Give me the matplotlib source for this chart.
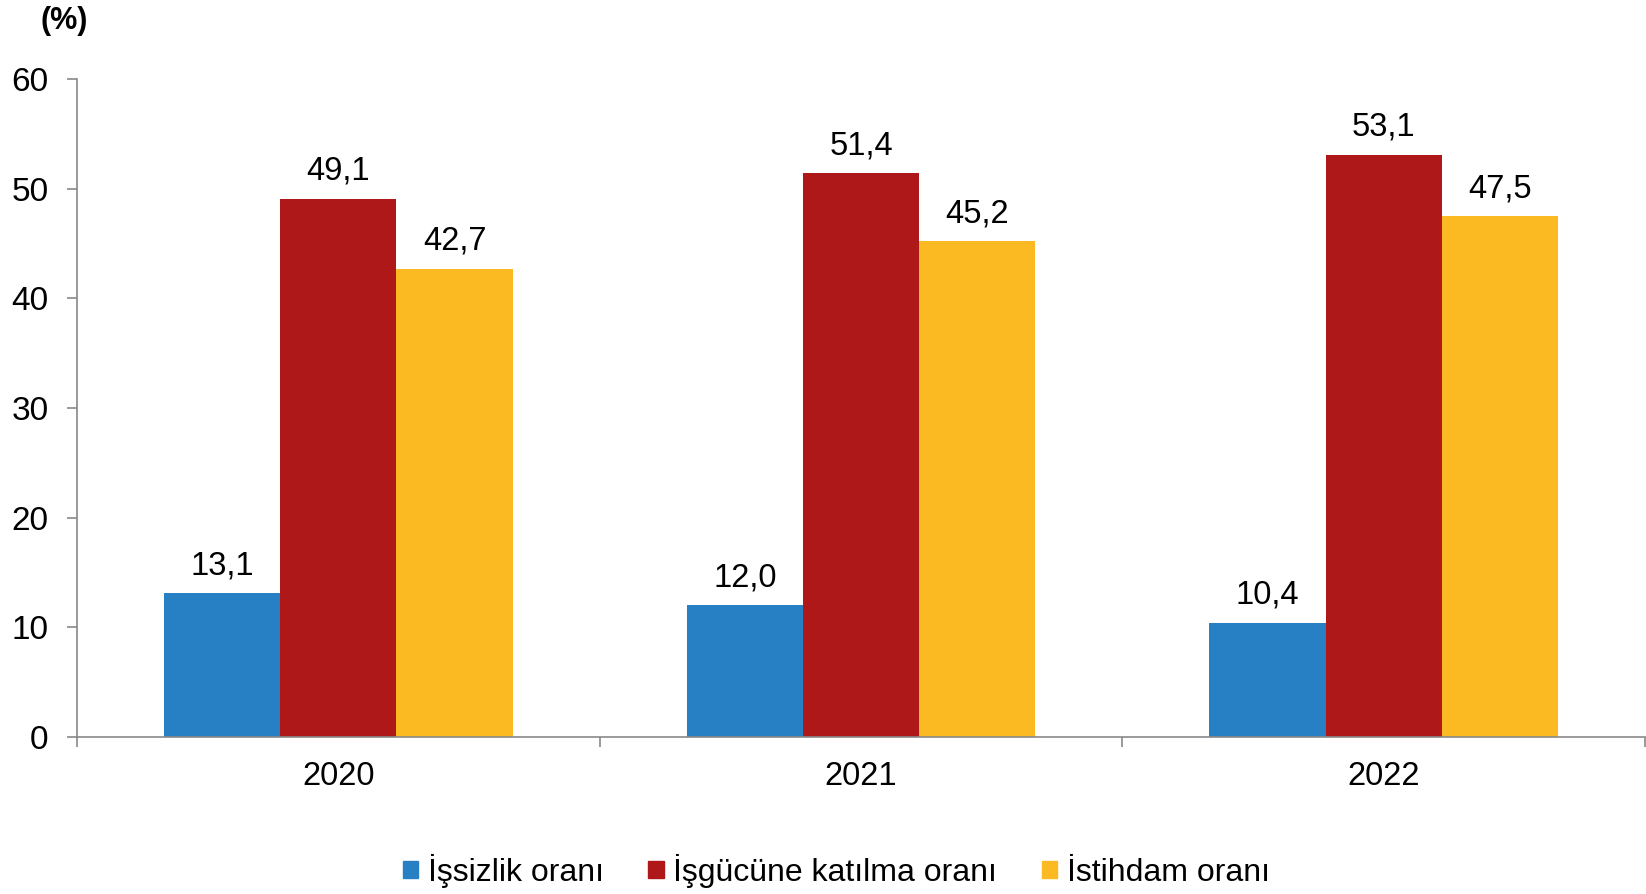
import matplotlib.pyplot as plt
from matplotlib.patches import Patch
import numpy as np

plt.rcParams['font.family'] = ['Liberation Sans', 'DejaVu Sans']

years = ['2020', '2021', '2022']
series_names = ['İşsizlik oranı', 'İşgücüne katılma oranı', 'İstihdam oranı']
issizlik = [13.1, 12.0, 10.4]
isgucu = [49.1, 51.4, 53.1]
istihdam = [42.7, 45.2, 47.5]
colors = ['#2880C4', '#AE1818', '#FBBA22']

fig = plt.figure(figsize=(16.46, 8.94), dpi=100)
ax = fig.add_axes([0.0468, 0.1756, 0.9526, 0.736])

x = np.arange(len(years))
w = 2 / 9
for i, (vals, c) in enumerate(zip([issizlik, isgucu, istihdam], colors)):
    pos = x + (i - 1) * w
    ax.bar(pos, vals, width=w, color=c, zorder=2)
    for p, v in zip(pos, vals):
        ax.text(p, v + 1.1, f'{v:.1f}'.replace('.', ','), ha='center', va='bottom', fontsize=23.5)

ax.set_xlim(-0.5, 2.5)
ax.set_ylim(0, 60)
ax.set_yticks(range(0, 61, 10))
ax.tick_params(axis='y', labelsize=24, length=7, width=1.2, color='#898989', pad=13.5)
ax.set_xticks(x)
ax.set_xticklabels(years)
ax.tick_params(axis='x', which='major', length=0, labelsize=23.5, pad=17)
ax.set_xticks([-0.5, 0.5, 1.5, 2.5], minor=True)
ax.tick_params(axis='x', which='minor', length=7, width=1.2, color='#898989')

for s in ['top', 'right']:
    ax.spines[s].set_visible(False)
for s in ['left', 'bottom']:
    ax.spines[s].set_color('#898989')
    ax.spines[s].set_linewidth(1.2)

fig.text(0.039, 0.977, '(%)', fontsize=22, fontweight='bold', ha='center', va='center')

handles = [Patch(color=c, label=n) for c, n in zip(colors, series_names)]
fig.legend(handles=handles, loc='center', bbox_to_anchor=(0.508, 0.026), ncol=3,
           frameon=False, fontsize=23, handlelength=0.48, handleheight=0.48,
           handletextpad=0.3, columnspacing=1.4, borderpad=0)

fig.savefig('out.png', dpi=100)
